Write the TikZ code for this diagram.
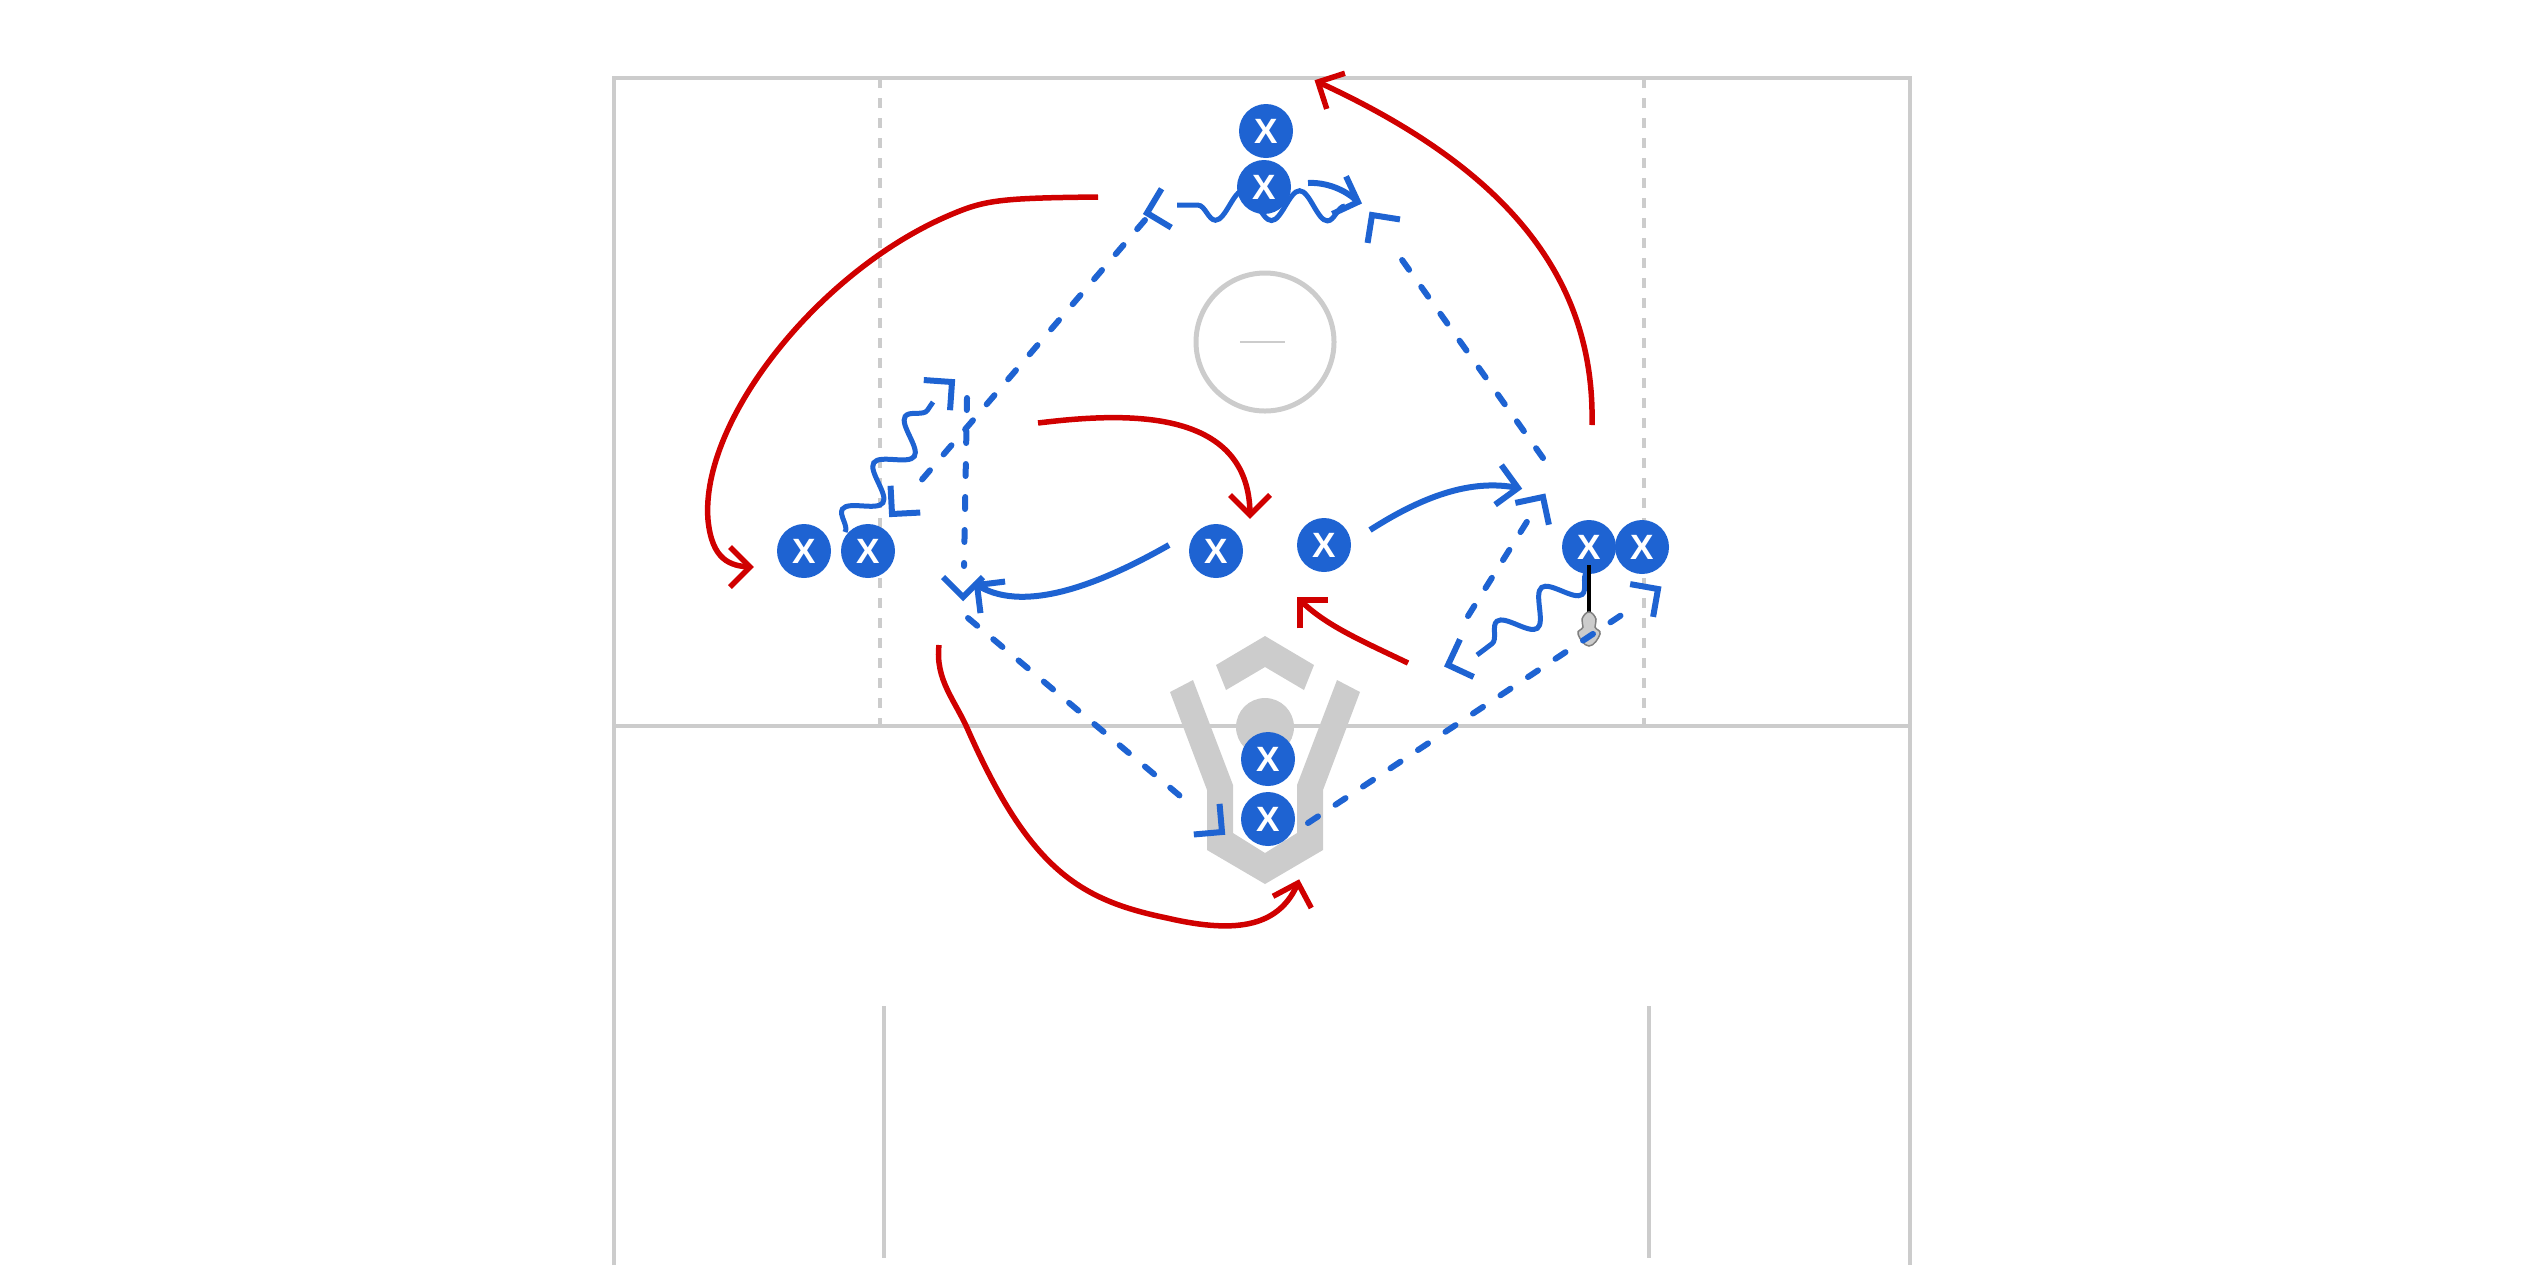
\documentclass[tikz,border=0pt]{standalone}
\usepackage{fontspec}
\usetikzlibrary{decorations.pathmorphing}
\newfontfamily\playerfont{Liberation Sans}
\definecolor{fieldgray}{RGB}{204,204,204}
\definecolor{playerblue}{RGB}{30,99,210}
\definecolor{cutred}{RGB}{208,0,0}

\tikzset{
    field/.style={draw=fieldgray, line width=0.45mm},
    sideline/.style={draw=fieldgray, line width=0.45mm, dash pattern=on 1mm off 1mm},
    player/.style={circle, fill=playerblue, minimum size=5.4mm, inner sep=0pt, text=white,
        font=\playerfont\bfseries\fontsize{10}{10}\selectfont},
    pass/.style={draw=playerblue, line width=0.6mm, line cap=round, dash pattern=on 1.2mm off 2.1mm},
    dodge/.style={draw=playerblue, line width=0.5mm, decorate,
        decoration={snake, amplitude=1.5mm, segment length=5.6mm}},
    cutblue/.style={draw=playerblue, line width=0.6mm},
    cutred/.style={draw=cutred, line width=0.55mm},
    bluetip/.style={draw=playerblue, line width=0.6mm},
    redtip/.style={draw=cutred, line width=0.55mm},
    passtip/.pic={\draw[pic actions, line join=miter] (-2mm,2mm) -- (0,0) -- (-2mm,-2mm);}
}

\begin{document}
\begin{tikzpicture}[x=0.1mm, y=-0.1mm]
    \useasboundingbox (0,0) rectangle (2530,1265);

    \draw[field] (614,1265) -- (614,78) -- (1910,78) -- (1910,1265);
    \draw[field] (614,726) -- (1910,726);
    \draw[sideline] (880,78) -- (880,726);
    \draw[sideline] (1644,78) -- (1644,726);
    \draw[field] (884,1006) -- (884,1258);
    \draw[field] (1649,1006) -- (1649,1258);
    \draw[field, line width=0.5mm] (1265,342) circle (6.9mm);
    \draw[fieldgray, line width=0.2mm] (1240,342) -- (1285,342);

    \fill[fieldgray] (1216,665) -- (1265,636) -- (1314,665) -- (1304,690) -- (1265,667) -- (1226,690) -- cycle;
    \fill[fieldgray] (1170,692) -- (1193,680) -- (1233,785) -- (1233,833) -- (1265,853) -- (1297,833)
        -- (1297,785) -- (1337,680) -- (1360,692) -- (1323,790) -- (1323,850) -- (1265,884)
        -- (1207,850) -- (1207,790) -- cycle;
    \fill[fieldgray] (1265,727) circle (2.9mm);

    \coordinate (r1s) at (1098,197);
    \coordinate (r1e) at (750,567);
    \coordinate (r2s) at (1038,423);
    \coordinate (r2e) at (1250,515);
    \coordinate (r3s) at (1408,663);
    \coordinate (r3e) at (1300,600);
    \coordinate (r4s) at (1592,425);
    \coordinate (r4e) at (1318,82);
    \coordinate (r5s) at (939,645);
    \coordinate (r5e) at (1298,883);

    \draw[cutred] (r1s) .. controls (1000,198) and (985,200) .. (950,215)
        .. controls (820,270) and (700,420) .. (708,520)
        .. controls (712,560) and (730,566) .. (r1e);
    \draw[cutred] (r2s) .. controls (1120,413) and (1250,405) .. (r2e);
    \draw[cutred] (r3s) .. controls (1360,640) and (1325,625) .. (r3e);
    \draw[cutred] (r4s) .. controls (1595,280) and (1510,170) .. (r4e);
    \draw[cutred] (r5s) .. controls (935,680) and (955,700) .. (968,730)
        .. controls (1030,870) and (1080,900) .. (1167,918)
        .. controls (1240,935) and (1280,925) .. (r5e);

    \coordinate (w1s) at (845,532);
    \coordinate (w1e) at (933,402);
    \coordinate (w2s) at (1345,206);
    \coordinate (w2e) at (1177,205);
    \coordinate (w3s) at (1587,572);
    \coordinate (w3e) at (1477,655);
    \draw[dodge] (w1s) -- (w1e);
    \draw[dodge] (w2s) -- (w2e);
    \draw[dodge] (w3s) -- (w3e);

    \coordinate (c1s) at (1169,545);
    \coordinate (c1e) at (977,585);
    \coordinate (c2s) at (1370,530);
    \coordinate (c2e) at (1518,488);
    \coordinate (c3s) at (1308,183);
    \coordinate (c3e) at (1358,202);
    \draw[cutblue] (c1s) .. controls (1090,590) and (1020,612) .. (c1e);
    \draw[cutblue] (c2s) .. controls (1420,498) and (1470,478) .. (c2e);
    \draw[cutblue] (c3s) .. controls (1325,182) and (1345,189) .. (c3e);

    \node[player] (top1) at (1266,131) {X};
    \node[player] (top2) at (1264,187) {X};
    \node[player] (leftA) at (804,551) {X};
    \node[player] (leftB) at (868,551) {X};
    \node[player] (midL) at (1216,551) {X};
    \node[player] (midR) at (1324,545) {X};
    \node[player] (rightA) at (1589,547) {X};
    \node[player] (rightB) at (1642,547) {X};
    \node[player] (goalA) at (1268,759) {X};
    \node[player] (goalB) at (1268,819) {X};

    \coordinate (stick) at (1589,615);
    \draw[black, line width=0.35mm] ([yshift=-1.8mm]rightA.center) -- (stick);
    \filldraw[fill=fieldgray, draw=gray, line width=0.15mm] plot[smooth cycle, tension=0.8]
        coordinates {(1589,612) (1596,619) (1595,627) (1600,634) (1589,646) (1578,634) (1583,627) (1582,619)};

    \coordinate (p1s) at (1145,220);
    \coordinate (p1e) at (913,490);
    \coordinate (p2s) at (967,398);
    \coordinate (p2e) at (964,566);
    \coordinate (p3s) at (968,618);
    \coordinate (p3e) at (1192,806);
    \coordinate (p4s) at (1308,823);
    \coordinate (p4e) at (1632,608);
    \coordinate (p5s) at (1468,616);
    \coordinate (p5e) at (1528,520);
    \coordinate (p6s) at (1543,458);
    \coordinate (p6e) at (1395,250);
    \draw[pass] (p1s) -- (p1e);
    \draw[pass] (p2s) -- (p2e);
    \draw[pass] (p3s) -- (p3e);
    \draw[pass] (p4s) -- (p4e);
    \draw[pass] (p5s) -- (p5e);
    \draw[pass] (p6s) -- (p6e);

    \pic[bluetip, rotate=41] at (952,382) {passtip};
    \pic[bluetip, rotate=228] at (892,514) {passtip};
    \pic[bluetip, rotate=270] at (963,597) {passtip};
    \pic[bluetip, rotate=194] at (1147,213) {passtip};
    \pic[bluetip, rotate=-20] at (c3e) {passtip};
    \pic[bluetip, rotate=142] at (c1e) {passtip};
    \pic[bluetip, rotate=-9] at (c2e) {passtip};
    \pic[bluetip, rotate=200] at (1448,665) {passtip};
    \pic[bluetip, rotate=57] at (1543,497) {passtip};
    \pic[bluetip, rotate=126] at (1372,215) {passtip};
    \pic[bluetip, rotate=35] at (1658,589) {passtip};
    \pic[bluetip, rotate=320] at (1222,832) {passtip};

    \pic[redtip, rotate=0] at (r1e) {passtip};
    \pic[redtip, rotate=270] at (r2e) {passtip};
    \pic[redtip, rotate=135] at (r3e) {passtip};
    \pic[redtip, rotate=153] at (r4e) {passtip};
    \pic[redtip, rotate=73] at (r5e) {passtip};
\end{tikzpicture}
\end{document}
